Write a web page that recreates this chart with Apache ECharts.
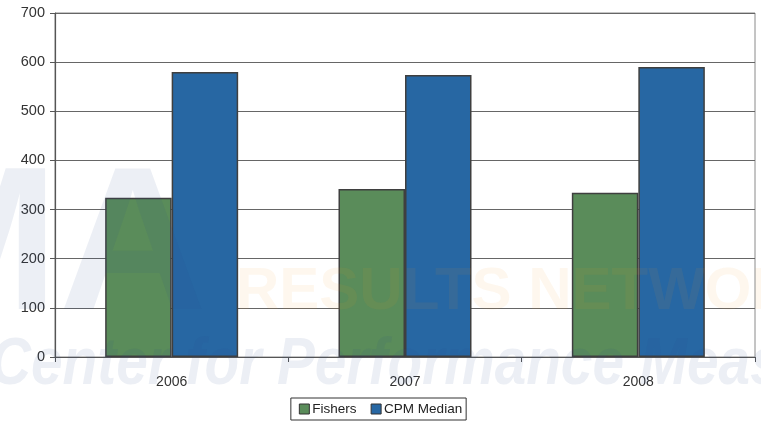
<!DOCTYPE html>
<html>
<head>
<meta charset="utf-8">
<script src="https://cdn.jsdelivr.net/npm/echarts@6/dist/echarts.min.js"></script>
<style>
  html, body { margin: 0; padding: 0; background: #fff; }
</style>
</head>
<body>
<div id="main" style="width:761px;height:421px;"></div>
<script>
var years = ['2006', '2007', '2008'];
var fishers = [324, 342, 334];
var cpmMedian = [580, 574, 590];
var yTicks = [0, 100, 200, 300, 400, 500, 600, 700];

var myChart = echarts.init(document.getElementById('main'));

var barBorder = { borderColor: '#3f3f3f', borderWidth: 1.5 };

var option = {
    backgroundColor: '#fff',
    animation: false,
    textStyle: { fontFamily: 'Liberation Sans, Arial, sans-serif' },
    grid: {
        left: 55, right: 6, top: 13, bottom: 64,
        show: true, borderColor: '#8a8a8a', borderWidth: 1
    },
    legend: {
        bottom: 1,
        left: 'center',
        data: ['Fishers', 'CPM Median'],
        icon: 'rect',
        itemWidth: 10,
        itemHeight: 10,
        itemGap: 14,
        borderColor: '#333',
        borderWidth: 1,
        padding: [4, 4, 4, 8],
        itemStyle: { borderColor: '#333', borderWidth: 1 },
        textStyle: { fontSize: 13.5, color: '#222', padding: [0, 0, 0, -2] }
    },
    xAxis: {
        type: 'category',
        data: years,
        axisLine: { lineStyle: { color: '#555', width: 1.2 } },
        axisTick: { show: true, length: 5, alignWithLabel: false, lineStyle: { color: '#555' } },
        axisLabel: { fontSize: 14, color: '#333', margin: 18 }
    },
    yAxis: {
        type: 'value',
        min: yTicks[0],
        max: yTicks[yTicks.length - 1],
        interval: 100,
        axisLine: { show: true, lineStyle: { color: '#555', width: 1.2 } },
        axisTick: { show: true, length: 5, lineStyle: { color: '#555' } },
        axisLabel: { fontSize: 14.5, color: '#333', margin: 10 },
        splitLine: { lineStyle: { color: '#666', width: 1 } }
    },
    series: [
        {
            name: 'Fishers',
            type: 'bar',
            data: fishers,
            barGap: '0%',
            barCategoryGap: '43%',
            itemStyle: Object.assign({ color: '#5a8c5a' }, barBorder)
        },
        {
            name: 'CPM Median',
            type: 'bar',
            data: cpmMedian,
            barGap: '0%',
            barCategoryGap: '43%',
            itemStyle: Object.assign({ color: '#2767a3' }, barBorder)
        }
    ],
    // faint watermark lying over the plot
    graphic: [
        {
            type: 'text', silent: true, z: 100, left: -112, top: 150,
            style: {
                text: 'MA', fill: 'rgba(40,80,140,0.09)',
                font: 'bold 205px Liberation Sans'
            }
        },
        {
            type: 'text', silent: true, z: 100, left: 236, top: 262,
            style: {
                text: 'RESULTS NETWORK', fill: 'rgba(245,150,40,0.08)',
                font: 'bold 60px Liberation Sans'
            }
        },
        {
            type: 'text', silent: true, z: 100, left: -10, top: 333,
            scaleX: 0.86,
            style: {
                text: 'Center for Performance Measurement', fill: 'rgba(40,80,140,0.09)',
                font: 'italic bold 66px Liberation Sans'
            }
        }
    ]
};

myChart.setOption(option);
</script>
</body>
</html>
